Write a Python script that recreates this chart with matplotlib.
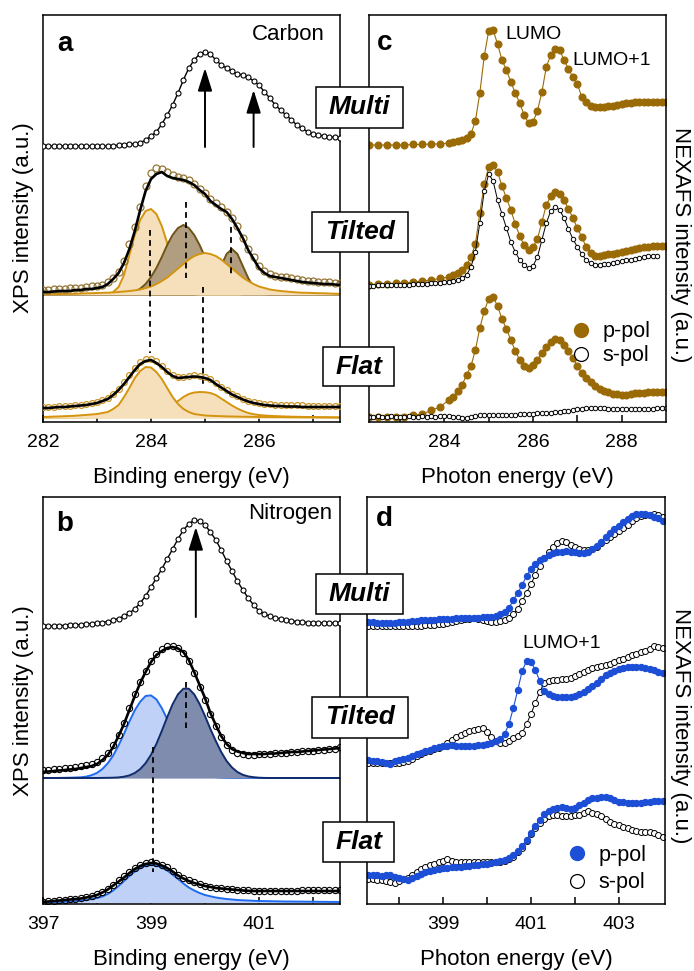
import numpy as np
import matplotlib.pyplot as plt
from matplotlib.lines import Line2D
from matplotlib.patches import Rectangle

plt.rcParams['font.family'] = ['Liberation Sans', 'DejaVu Sans']

# ---------- C 1s XPS (panel a), intensities in a.u. ----------
c_be = np.arange(282.0, 287.55, 0.1)
c_multi = [276, 276, 276, 276, 276, 276, 276, 276, 276, 276, 276, 276, 276, 276,
           277, 277, 278, 278, 279, 282, 286, 290, 298, 307, 317, 329, 342, 354, 362, 368,
           370, 368, 362, 357, 354, 351, 348, 347, 345, 341, 337, 330, 324, 317, 312, 307,
           302, 297, 294, 290, 288, 287, 286, 285, 285, 284]
c_tilt = [132, 132, 132.5, 133, 133, 133.5, 134, 134, 135, 135.5, 136, 137, 140, 144, 150,
          161, 178, 195, 215, 236, 249, 254, 253, 250, 247, 245, 244, 242, 238, 233, 229,
          223, 219, 215, 210, 204, 196, 184, 173, 165, 156, 151, 148, 146, 145, 144.5, 144,
          143, 142, 141, 141, 140, 140, 139.5, 139, 139]
c_tilt_fit = [130, 130, 130.5, 131, 131, 131, 132, 132, 133, 133, 134, 135, 138, 143, 149,
              159, 173, 191, 212, 231, 243, 248, 250, 246, 244, 243, 242, 240, 237, 232, 228,
              221, 217, 213, 210, 203, 194, 184, 172, 163, 154, 149, 146, 145, 144, 143, 142,
              141, 140, 139.5, 139, 138.5, 138, 138, 137.5, 137]
c_t1 = [0] * 13 + [3, 8, 20, 40, 60, 75, 84, 86, 81, 69, 52, 35, 20, 10, 4, 1] + [0] * 27
c_t2 = [0] * 16 + [1.6, 3.3, 6.3, 11, 18, 27, 38, 50, 60, 67, 70, 67, 60, 50, 38, 27, 18,
                   11, 6, 3, 1.6] + [0] * 19
c_t3 = [0.8, 0.9, 0.9, 1.0, 1.1, 1.2, 1.3, 1.5, 1.7, 1.8, 2.0, 2.2, 2.3, 2.6, 3.0, 3.5, 4.0,
        4.7, 5.5, 7.0, 8.5, 11, 14, 17.5, 22, 26.5, 31, 35.5, 39, 41, 42, 41, 39, 35.5, 31,
        26.5, 22, 17.5, 14, 11, 8.5, 7.0, 5.5, 4.7, 4.0, 3.5, 3.0, 2.6, 2.3, 2.2, 2.0, 1.8,
        1.7, 1.5, 1.3, 1.2]
c_t4 = [0] * 29 + [0.8, 2.7, 7.5, 16.6, 29.3, 41, 46, 41, 29, 17, 7.5, 2.7, 0.8] + [0] * 14
c_flat = [15, 15, 15, 16, 16, 16, 17, 17, 18, 19, 20, 22, 24, 28, 33, 40, 47, 54, 60, 63, 63,
          61, 56, 51, 47, 45, 45, 46, 46.5, 46, 45, 43, 39, 35, 31.5, 28, 25.5, 23, 21, 19.5,
          18.5, 18, 17.5, 17, 17, 16.5, 16.5, 16.5, 16.5, 16, 16, 16, 16, 16, 16, 16]
c_flat_fit = [14, 14, 14.5, 15, 15, 15.5, 16, 16.5, 17, 18, 19, 21, 23, 27, 32, 38, 45, 52, 58,
              61, 62, 59, 55, 50, 46, 44, 44.5, 45, 45.5, 45, 44, 42, 38, 34.5, 31, 27.5, 25,
              22.5, 20.5, 19, 18, 17, 16.5, 16, 16, 15.5, 15.5, 15.5, 15, 15, 15, 15, 15, 15,
              15, 15]
c_f1 = [1.0, 1.2, 1.4, 1.6, 1.8, 2.0, 2.3, 2.7, 3.1, 3.5, 4.0, 5.0, 6.0, 9.0, 13, 21, 30, 40,
        47, 51, 50.5, 46, 39, 30, 21, 14, 9, 6, 4, 3.2, 2.5, 2.2, 2.0, 1.8, 1.6, 1.5, 1.4, 1.3,
        1.2, 1.1, 1.0, 1.0, 0.9, 0.9, 0.9, 0.8, 0.8, 0.8, 0.7, 0.7, 0.7, 0.6, 0.6, 0.6, 0.5, 0.5]
c_f2 = [0.3, 0.3, 0.4, 0.4, 0.4, 0.5, 0.5, 0.6, 0.6, 0.7, 0.7, 0.8, 0.8, 0.9, 0.9, 1.0, 1.3,
        1.6, 2.0, 2.7, 3.5, 5.0, 7.0, 9.5, 13, 17, 21, 24, 25.5, 26, 25.8, 25, 23, 19.5, 16,
        12.5, 9.5, 7.0, 5.0, 3.8, 3.0, 2.5, 2.2, 1.9, 1.7, 1.5, 1.3, 1.2, 1.1, 1.0, 0.9, 0.8,
        0.7, 0.6, 0.6, 0.5]
c_tilt_base, c_flat_base = 127, 4
c_arrows = [(285.0, 275, 354), (285.9, 275, 332)]
c_dashes = [(283.98, 192, 69), (284.65, 220, 144), (285.48, 195, 145), (284.97, 135, 35)]

# ---------- N 1s XPS (panel b) ----------
n_be = np.arange(397.0, 402.55, 0.1)
n_multi = [278, 278, 278, 278.5, 278.5, 279, 279, 279.5, 280, 280.5, 281, 281.5, 282.5, 284,
           285.5, 288, 291, 295, 301, 308, 317, 326, 335, 345, 355, 365, 374, 380, 384, 383,
           379, 372, 364, 354, 343, 333, 323, 314, 306, 299, 293, 290, 288, 286.5, 285, 284,
           283, 282.5, 282, 281.5, 281, 281, 281, 281, 281, 281]
n_tilt = [134, 134.5, 135, 135.5, 136, 136.5, 137, 138, 139, 140, 142, 146, 151, 159, 169, 181,
          196, 210, 222, 233, 243, 250, 255, 258, 258, 256, 251, 243, 231, 217, 204, 190, 178,
          167, 159, 154, 151.5, 150, 149.5, 149.5, 150, 150, 150.5, 151, 151.5, 151.5, 152,
          152.5, 153, 153, 153.5, 154, 154.5, 155, 155.5, 157]
n_tilt_fit = [132, 132.5, 133, 133.5, 134, 134.5, 135, 136, 137, 138, 140, 144, 149, 157, 168,
              180, 194, 208, 221, 232, 242, 249, 253, 256, 257, 255.5, 252, 244, 232, 219, 206,
              191, 179, 168, 160, 155, 152.5, 151, 150, 150, 150, 150, 150.5, 150.5, 151, 151.5,
              152, 152, 152.5, 153, 153.5, 154, 154.5, 155, 155.5, 156]
n_t1 = [0, 0, 0, 0.1, 0.2, 0.3, 0.5, 0.7, 1.4, 2.8, 5.1, 9, 14.7, 22.5, 32.6, 44.2, 56.5, 67.7,
        76.3, 82, 82.6, 78.6, 69.9, 58.8, 46.6, 34.8, 24.2, 16, 10, 5.7, 3.3, 1.7, 0.8, 0.4,
        0.2, 0.1] + [0] * 20
n_t2 = [0] * 11 + [0.1, 0.2, 0.3, 0.6, 1.3, 2.6, 5, 8.9, 14.8, 23.2, 34.1, 47, 60.8, 73.7,
                   83.7, 89.3, 89.3, 83.7, 74, 62, 49, 37, 26, 17, 10.5, 6, 3.2, 1.6, 0.8,
                   0.3, 0.1] + [0] * 14
n_flat = [2.5, 3, 3.5, 4, 4.5, 5, 5.5, 6, 7, 8, 10, 12.5, 15.5, 19.5, 24, 28, 32, 36, 39, 41,
          42, 41.5, 39.5, 37, 33.5, 29.5, 26.5, 24, 22, 20, 18.5, 17.5, 16.5, 16, 15.5, 15,
          14.5, 14, 14, 13.5, 13.5, 13.5, 13.5, 13.5, 13.5, 13.5, 13.5, 13.5, 14, 14, 14, 14,
          14, 14, 14, 14]
n_flat_fit = [2, 2.5, 3, 3.5, 4, 4.5, 5, 5.5, 6.5, 7.5, 9, 11.5, 14.5, 18.5, 22.5, 26.5, 31, 35,
              38, 40, 41, 40.5, 38.5, 36, 32.5, 28.5, 25.5, 23, 21, 19.5, 18, 17, 16, 15.5, 15,
              14.5, 14, 13.5, 13.2, 13] + [13] * 16
n_f1 = [0.5, 0.7, 0.9, 1.1, 1.3, 1.5, 2.0, 2.5, 3.0, 4.0, 5.0, 6.5, 9.0, 12.5, 17, 22, 27,
        31.5, 35, 37.3, 38, 37.5, 35.5, 32.5, 28.5, 24, 19.5, 15.5, 12.5, 10, 8, 6.7, 5.5, 4.7,
        4.0, 3.5, 3.0, 2.7, 2.5, 2.2, 2.0, 1.9, 1.8, 1.7, 1.6, 1.5, 1.5, 1.4, 1.4, 1.3, 1.3,
        1.2, 1.2, 1.1, 1.1, 1.0]
n_tilt_base, n_flat_base = 126, 1
n_arrows = [(399.83, 287, 377)]
n_dashes = [(399.65, 222, 176), (399.03, 157, 32)]

# ---------- C K-edge NEXAFS (panel c) ----------
cp_e = np.r_[np.arange(282.3, 284.15, 0.2), np.arange(284.2, 289.05, 0.1)]
cs_e = np.arange(282.3, 289.05, 0.1)
cm_p = [277, 277, 277, 277, 277, 277.5, 277.5, 278, 278, 279,
        280, 280.5, 282, 284, 288, 301, 329, 366, 391, 392, 378, 362, 352, 340, 329, 319, 307,
        299, 300, 311, 330, 355, 367, 373, 372, 362, 353, 345, 338, 325, 320, 316, 315, 315,
        315, 316, 316, 317, 318, 319, 319, 320, 320, 320, 320, 320, 320, 320, 320]
ct_p = [137, 137.5, 138, 138.5, 139, 140, 141, 142, 143.5, 145,
        147, 149, 152, 157, 165, 178, 209, 238, 255, 257, 250, 236, 224, 212, 198, 186, 177,
        172, 175, 183, 200, 217, 226, 230, 228, 222, 213, 204, 194, 185, 175, 169, 166, 166,
        167, 167.5, 168, 169, 170, 171, 172, 173, 174, 174.5, 175, 175.5, 176, 176, 176]
ct_s = [136, 136, 136.5, 136.5, 136.5, 136.5, 137, 137, 137, 137, 137.5, 137.5, 138, 138,
        138.5, 139, 139, 139.5, 140, 141, 142, 144, 147, 155, 170, 199, 231, 248, 241, 222,
        208, 194, 180, 170, 162, 157, 154, 156, 165, 182, 199, 211, 215, 212, 204, 193, 183,
        175, 168, 162, 159, 157, 157, 157.5, 158, 159, 160, 161, 161.5, 162, 163, 164, 165,
        166, 166, 166]
cf_p = [5, 5, 5, 5, 5, 6.5, 8, 11.5, 15, 22,
        25, 31, 37, 47, 56, 72, 94, 111, 123, 125, 116, 103, 93, 82, 71, 62, 56, 54, 57, 62,
        69, 75, 80, 83, 82, 77, 71, 64, 56, 49, 44, 40, 36, 33, 31, 29.5, 28, 27.5, 27, 27, 28,
        28.5, 29, 29, 29.5, 30, 30, 30, 30]
cf_s = [5, 5, 5.5, 5, 5, 5.5, 5, 5, 5, 5.5, 5, 5, 5.5, 5, 5.5, 5, 5.5, 6, 5.5, 5, 4.5, 4, 4,
        4.5, 5.5, 6.5, 7, 7, 7, 7, 7, 7, 7, 7, 7.5, 7.5, 8, 8, 8.5, 8.5, 9, 9, 9.5, 10, 10.5,
        11, 12, 12.5, 13, 13.5, 14, 14, 13.5, 13.5, 13, 13, 13, 12.5, 12.5, 12.5, 13, 13, 13,
        13, 13, 13.5, 13.5, 13.5]

# ---------- N K-edge NEXAFS (panel d) ----------
n_pe = np.arange(397.3, 404.05, 0.1)
nm_p = [282, 282, 281.5, 281, 281, 281, 281.5, 282, 282, 282.5, 283, 283.5, 284, 284, 284.5,
        284.5, 285, 285, 285.5, 285.5, 286, 286, 286, 286.5, 286.5, 286.5, 287, 287, 287.5,
        288.5, 290, 292.5, 296, 304, 311, 319, 328, 335, 340, 344, 346.5, 349, 351, 352,
        352.5, 353, 352.5, 352, 351, 351.5, 352, 355, 358, 362, 367, 371, 375, 378.5, 382,
        385, 388, 389.5, 390, 389.5, 389, 387, 385.5, 383]
nm_s = [278, 278, 278, 278, 278, 278, 278, 278, 278, 278, 278, 278, 278.5, 279, 279, 279.5,
        280, 280.5, 281, 282, 283, 284, 285, 285.5, 286, 285, 284, 283, 282, 282, 283, 284,
        286, 290, 295, 303, 311, 320, 329, 338, 346, 352, 357, 361, 363, 362, 359, 357, 355.5,
        354.5, 354, 355, 357, 361, 364, 367, 370, 373, 376, 379, 383, 386, 388, 389, 389, 390,
        389, 387]
nt_p = [144, 143.5, 143, 142, 141, 140, 143, 144, 145, 146.5, 148, 150, 151.5, 153, 154.5, 156,
        157, 158, 158.5, 159, 158.5, 158.5, 158.5, 158.5, 158.5, 159, 159.5, 160, 161, 163,
        165, 170, 180, 196, 214, 233, 243, 242, 234, 223, 213, 210, 208, 207, 207, 207.5, 207,
        208, 210, 212, 215, 218, 221, 225, 229, 231, 233, 235, 236, 237, 237, 237, 237, 236,
        235, 234, 232, 231]
nt_s = [141, 141, 141, 141, 141, 141, 141, 141.5, 142, 143, 145.5, 148, 150.5, 152, 153.5, 155,
        156.5, 158.5, 161, 164, 167, 169, 171, 173, 174, 175, 176, 172, 167, 163, 161, 161,
        163, 166, 168, 171, 180, 190, 201, 212, 221, 223, 224, 224.5, 225, 225, 226, 228, 230,
        232, 234, 236.5, 237.5, 238, 239, 240.5, 242.5, 244, 245.5, 247.5, 249, 250.5, 252,
        253.5, 255, 258, 257, 256]
nf_p = [29, 29, 29, 28, 29, 29, 27, 26, 25, 24, 26, 28, 30, 32, 33, 34, 35.5, 36, 36.5, 37, 37,
        37.5, 38, 38.5, 39, 39.5, 40, 40.5, 41, 42, 43, 44, 46, 49, 53, 58, 64, 71, 78, 84, 90,
        93, 95, 96.5, 97, 96, 95.5, 96, 99, 101.5, 104, 106, 106.5, 107, 107, 106, 104, 102.5,
        102, 101.5, 101, 101, 101.5, 102, 102.5, 103, 103, 103]
nf_s = [25, 25, 24.5, 24, 23, 22, 21, 23, 25, 26.5, 29, 32, 35, 37, 39, 40.5, 42, 43.5, 45,
        43.5, 42.5, 42, 42, 42, 42, 42, 42, 42, 42, 42, 42, 43, 45, 47, 52, 56, 63, 70, 76, 81,
        85, 88, 89, 89, 88.5, 88, 88.5, 89, 89, 91, 93, 91, 90, 88.5, 85, 82.5, 80.5, 79, 77.5,
        76, 74.5, 73, 72, 72, 72, 71, 69.5, 67]

# colours
TAN, TAN_E = '#f5e0bb', '#d4940f'
BRN, BRN_E = '#b19e80', '#6e5318'
LBL, LBL_E = '#bfd1f7', '#1f6bf0'
NAV, NAV_E = '#7f8cae', '#102c6c'
C_GOLD = '#9a6a06'
N_BLUE = '#1c4fd6'

W, H = 694, 971
fig = plt.figure(figsize=(W / 100, H / 100), dpi=100)


def px_axes(l, t, r, b):
    return fig.add_axes([l / W, 1 - b / H, (r - l) / W, (b - t) / H])


ax_a = px_axes(43, 15, 340, 422)
ax_c = px_axes(369, 15, 666, 422)
ax_b = px_axes(43, 497, 340, 904)
ax_d = px_axes(367, 497, 665, 904)


def style(ax, xlim, major, minor):
    ax.set_xlim(*xlim)
    ax.set_ylim(0, 407)
    ax.set_xticks(major)
    ax.set_xticks(minor, minor=True)
    ax.set_yticks([])
    ax.tick_params(axis='x', which='both', direction='in', length=5, width=1.1,
                   labelsize=14, pad=8.3)
    for s in ax.spines.values():
        s.set_linewidth(1.1)


style(ax_a, (282, 287.5), [282, 284, 286], [283, 285, 287])
style(ax_b, (397, 402.5), [397, 399, 401], [398, 400, 402])
style(ax_c, (282.3, 289.0), [284, 286, 288], [283, 285, 287])
style(ax_d, (397.27, 404.05), [399, 401, 403], [398, 400, 402])


def components(ax, x, base, comps):
    for comp, fc, ec in comps:
        y = base + np.asarray(comp, float)
        ax.fill_between(x, base, y, color=fc, lw=0, zorder=2)
        ax.plot(x, y, color=ec, lw=1.4, zorder=2)


def arrows(ax, items):
    for e, y0, y1 in items:
        ax.annotate('', xy=(e, y1), xytext=(e, y0),
                    arrowprops=dict(arrowstyle='-|>,head_length=0.7,head_width=0.22',
                                    color='k', lw=1.4, mutation_scale=20,
                                    shrinkA=0, shrinkB=0), zorder=6)


def dashes(ax, items):
    for e, y0, y1 in items:
        ax.plot([e, e], [y0, y1], color='k', lw=1.3, ls=(0, (3.2, 2.4)), zorder=4)


# panel a
ax = ax_a
ax.plot(c_be, c_multi, '-o', color='k', lw=1.0, ms=3.6, mfc='white', mec='k', mew=0.8, zorder=5)
components(ax, c_be, c_tilt_base, [(c_t1, TAN, TAN_E), (c_t2, BRN, BRN_E),
                                   (c_t4, BRN, BRN_E), (c_t3, TAN, TAN_E)])
components(ax, c_be, c_flat_base, [(c_f2, TAN, TAN_E), (c_f1, TAN, TAN_E)])
dashes(ax, c_dashes)
ax.plot(c_be, c_tilt, 'o', ms=5, mfc='none', mec='#957535', mew=0.9, zorder=5)
ax.plot(c_be, c_tilt_fit, color='k', lw=1.9, zorder=6)
ax.plot(c_be, c_flat, 'o', ms=4.2, mfc='none', mec='#c9962a', mew=0.9, zorder=5)
ax.plot(c_be, c_flat_fit, color='k', lw=1.9, zorder=6)
arrows(ax, c_arrows)
ax.text(0.074, 0.929, 'a', transform=ax.transAxes, fontsize=20, fontweight='bold',
        ha='center', va='center')
ax.text(0.949, 0.953, 'Carbon', transform=ax.transAxes, fontsize=16, ha='right', va='center')

# panel b
ax = ax_b
ax.plot(n_be, n_multi, '-o', color='k', lw=1.0, ms=3.6, mfc='white', mec='k', mew=0.8, zorder=5)
components(ax, n_be, n_tilt_base, [(n_t1, LBL, LBL_E), (n_t2, NAV, NAV_E)])
components(ax, n_be, n_flat_base, [(n_f1, LBL, LBL_E)])
dashes(ax, n_dashes)
ax.plot(n_be, n_tilt, 'o', ms=4.5, mfc='none', mec='k', mew=0.8, zorder=5)
ax.plot(n_be, n_tilt_fit, color='k', lw=1.9, zorder=6)
ax.plot(n_be, n_flat, 'o', ms=4.5, mfc='none', mec='k', mew=0.8, zorder=5)
ax.plot(n_be, n_flat_fit, color='k', lw=1.9, zorder=6)
arrows(ax, n_arrows)
ax.text(0.074, 0.934, 'b', transform=ax.transAxes, fontsize=20, fontweight='bold',
        ha='center', va='center')
ax.text(0.973, 0.960, 'Nitrogen', transform=ax.transAxes, fontsize=16, ha='right', va='center')

# panel c
ax = ax_c
p_kw = dict(color=C_GOLD, lw=0.8, marker='o', ms=4.8, mec=C_GOLD, mfc=C_GOLD)
s_kw = dict(color='k', lw=0.7, marker='o', ms=3.2, mec='k', mfc='white', mew=0.7)
ax.plot(cp_e, cm_p, **p_kw)
ax.plot(cp_e, ct_p, **p_kw)
ax.plot(cs_e[:len(ct_s)], ct_s, **s_kw)
ax.plot(cp_e, cf_p, **p_kw)
ax.plot(cs_e, cf_s, **s_kw)
ax.text(0.054, 0.931, 'c', transform=ax.transAxes, fontsize=20, fontweight='bold',
        ha='center', va='center')
ax.text(0.458, 0.952, 'LUMO', transform=ax.transAxes, fontsize=14, ha='left', va='center')
ax.text(0.684, 0.889, 'LUMO+1', transform=ax.transAxes, fontsize=14, ha='left', va='center')
ax.legend(handles=[Line2D([], [], ls='none', marker='o', ms=10, mfc=C_GOLD, mec=C_GOLD),
                   Line2D([], [], ls='none', marker='o', ms=10, mfc='white', mec='k', mew=0.9)],
          labels=['p-pol', 's-pol'], loc='lower right', bbox_to_anchor=(0.985, 0.11),
          frameon=False, fontsize=15.5, handlelength=1.0, handletextpad=0.5,
          labelspacing=0.15, borderpad=0)

# panel d
ax = ax_d
p_kw = dict(color=N_BLUE, lw=0.8, marker='o', ms=4.3, mec=N_BLUE, mfc=N_BLUE)
s_kw = dict(color='k', lw=0.7, marker='o', ms=4.3, mec='k', mfc='white', mew=0.7)
for p, s in [(nm_p, nm_s), (nt_p, nt_s), (nf_p, nf_s)]:
    ax.plot(n_pe, s, **s_kw)
    ax.plot(n_pe, p, **p_kw)
ax.text(0.057, 0.946, 'd', transform=ax.transAxes, fontsize=20, fontweight='bold',
        ha='center', va='center')
ax.text(0.523, 0.641, 'LUMO+1', transform=ax.transAxes, fontsize=14, ha='left', va='center')
ax.legend(handles=[Line2D([], [], ls='none', marker='o', ms=10, mfc=N_BLUE, mec=N_BLUE),
                   Line2D([], [], ls='none', marker='o', ms=10, mfc='white', mec='k', mew=0.9)],
          labels=['p-pol', 's-pol'], loc='lower right', bbox_to_anchor=(0.975, 0.0),
          frameon=False, fontsize=15.5, handlelength=1.0, handletextpad=0.5,
          labelspacing=0.3, borderpad=0)

# axis labels
fig.text(191.5 / W, 1 - 483 / H, 'Binding energy (eV)', fontsize=16, ha='center', va='baseline')
fig.text(517.5 / W, 1 - 483 / H, 'Photon energy (eV)', fontsize=16, ha='center', va='baseline')
fig.text(191.5 / W, 1 - 965 / H, 'Binding energy (eV)', fontsize=16, ha='center', va='baseline')
fig.text(516 / W, 1 - 965 / H, 'Photon energy (eV)', fontsize=16, ha='center', va='baseline')
fig.text(24 / W, 1 - 218 / H, 'XPS intensity (a.u.)', fontsize=16, rotation=90,
         ha='center', va='center')
fig.text(24 / W, 1 - 701 / H, 'XPS intensity (a.u.)', fontsize=16, rotation=90,
         ha='center', va='center')
fig.text(681 / W, 1 - 245 / H, 'NEXAFS intensity (a.u.)', fontsize=16, rotation=270,
         ha='center', va='center')
fig.text(681 / W, 1 - 726 / H, 'NEXAFS intensity (a.u.)', fontsize=16, rotation=270,
         ha='center', va='center')

# sample labels in boxes bridging the panels
boxes = [('Multi', 316, 87, 403, 128), ('Tilted', 312, 212, 408, 252), ('Flat', 323, 347, 394, 386),
         ('Multi', 316, 574, 403, 614), ('Tilted', 312, 697, 408, 738), ('Flat', 323, 822, 394, 862)]
for label, l, t, r, b in boxes:
    fig.add_artist(Rectangle((l / W, 1 - b / H), (r - l) / W, (b - t) / H,
                             transform=fig.transFigure, fc='white', ec='k', lw=1.1, zorder=10))
    fig.text((l + r) / 2 / W, 1 - (t + b) / 2 / H, label, fontsize=19, fontweight='bold',
             style='italic', ha='center', va='center', zorder=11)

fig.savefig('out.png', dpi=100)
